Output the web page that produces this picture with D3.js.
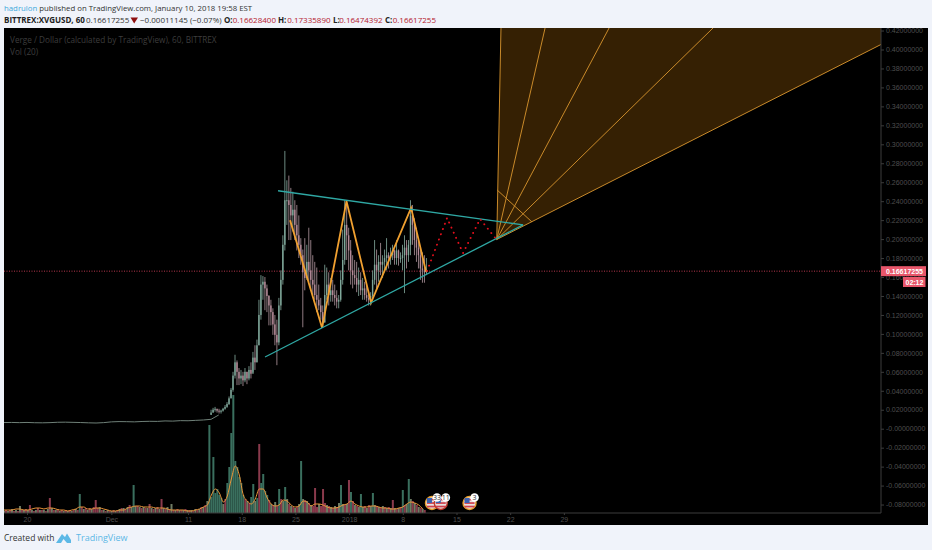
<!DOCTYPE html>
<html>
<head>
<meta charset="utf-8">
<script src="https://cdn.jsdelivr.net/npm/d3@7"></script>
<style>
html, body { margin: 0; padding: 0; background: #f0f3fa; overflow: hidden; }
text { font-family: "Open Sans", sans-serif; }
.axisText text { font-family: "Liberation Sans", sans-serif; }
</style>
</head>
<body>
<svg id="chart" width="932" height="550"></svg>
<script>
// days are counted from Dec 11 2017
let priceTicks = [0.42, 0.40, 0.38, 0.36, 0.34, 0.32, 0.30, 0.28, 0.26, 0.24, 0.22, 0.20, 0.18, 0.16, 0.14, 0.12, 0.10, 0.08, 0.06, 0.04, 0.02, 0, -0.02, -0.04, -0.06, -0.08]
let timeTicks = [-21, -10, 0, 7, 14, 21, 28, 35, 42, 49]
let timeLabels = ["20", "Dec", "11", "18", "25", "2018", "8", "15", "22", "29"]

let quietStart = -24
let quietPrice = [0.0065, 0.0066, 0.0064, 0.0066, 0.0063, 0.0062, 0.0064, 0.0068, 0.0069, 0.0067, 0.0065, 0.0062, 0.0060, 0.0064, 0.0072, 0.0075, 0.0074, 0.0072, 0.0076, 0.0078, 0.0077, 0.0082, 0.0080, 0.0085, 0.0084, 0.0088, 0.0092, 0.0099, 0.0145]

let candleStart = 3
let candleStep = 0.26
let candleHigh = [
    .020, .022, .023, .021, .021, .020, .022, .025, .028, .034,
    .043, .060, .078, .072, .064, .062, .060, .064, .060, .066,
    .070, .081, .088, .094, .136, .162, .161, .160, .152, .141,
    .136, .127, .120, .115, .138, .167, .204, .293, .262, .267,
    .254, .250, .241, .236, .225, .201, .189, .201, .194, .212,
    .199, .183, .176, .170, .152, .138, .130, .173, .170, .165,
    .159, .157, .152, .146, .141, .167, .210, .241, .236, .212,
    .199, .183, .178, .176, .170, .165, .159, .155, .152, .146,
    .144, .167, .199, .189, .183, .196, .183, .189, .201, .186,
    .191, .194, .189, .199, .189, .186, .194, .204, .199, .199,
    .241, .236, .222, .212, .201, .191, .186, .183, .180]
let candleLow = [
    .015, .017, .018, .017, .016, .016, .018, .020, .022, .025,
    .032, .039, .053, .046, .046, .047, .045, .049, .047, .051,
    .053, .060, .062, .070, .088, .115, .136, .125, .123, .109,
    .109, .099, .088, .067, .088, .125, .152, .188, .215, .199,
    .199, .208, .199, .188, .180, .173, .107, .146, .157, .155,
    .146, .141, .136, .123, .125, .115, .107, .112, .136, .130,
    .134, .134, .130, .127, .127, .134, .152, .173, .178, .167,
    .152, .148, .152, .144, .140, .141, .136, .136, .134, .130,
    .130, .136, .152, .148, .155, .162, .159, .165, .167, .169,
    .173, .178, .173, .173, .172, .175, .167, .143, .169, .176,
    .183, .194, .183, .176, .169, .157, .154, .154, .162]
let candleClose = [
    .017, .020, .021, .019, .018, .019, .021, .023, .026, .032,
    .041, .056, .070, .060, .053, .056, .051, .060, .053, .062,
    .058, .075, .070, .088, .120, .152, .155, .148, .140, .130,
    .123, .110, .099, .091, .130, .157, .194, .241, .241, .236,
    .225, .231, .215, .204, .194, .183, .165, .159, .176, .167,
    .157, .152, .141, .136, .130, .123, .112, .141, .152, .141,
    .146, .141, .138, .134, .136, .157, .178, .215, .204, .188,
    .167, .162, .159, .152, .157, .146, .148, .141, .138, .136,
    .140, .157, .173, .167, .176, .173, .176, .180, .183, .180,
    .183, .188, .180, .188, .180, .180, .183, .191, .183, .194,
    .225, .215, .199, .191, .183, .169, .167, .165, .1662]

let volumeStart = -24
let volumeStep = 0.26
let volumeValues = [
    2, 3, 2, 3, 4, 2, 3, 2, 7, 3,
    3, 4, 3, 8, 3, 2, 3, 5, 3, 3,
    3, 2, 4, 15, 5, 3, 3, 4, 2, 3,
    2, 3, 2, 3, 2, 3, 4, 3, 19, 6,
    4, 5, 3, 5, 4, 6, 13, 5, 6, 3,
    3, 2, 3, 2, 2, 3, 2, 3, 4, 5,
    5, 4, 6, 8, 6, 28, 7, 7, 6, 5,
    6, 5, 5, 9, 5, 4, 5, 6, 4, 14,
    5, 4, 6, 4, 9, 3, 3, 4, 3, 3,
    3, 4, 3, 3, 3, 2, 4, 3, 4, 6,
    6, 8, 12, 88, 16, 56, 20, 24, 18, 15,
    9, 14, 30, 46, 80, 118, 52, 46, 36, 30,
    18, 14, 12, 10, 16, 29, 12, 15, 69, 30,
    39, 22, 18, 13, 9, 8, 11, 7, 24, 14,
    12, 26, 14, 9, 7, 6, 5, 6, 9, 52,
    14, 13, 12, 10, 8, 7, 25, 6, 9, 7,
    24, 10, 8, 7, 6, 5, 7, 6, 10, 28,
    9, 8, 9, 33, 21, 12, 8, 7, 6, 19,
    6, 7, 5, 8, 7, 20, 8, 7, 6, 5,
    7, 6, 5, 6, 5, 13, 5, 4, 5, 6,
    23, 8, 9, 34, 14, 12, 10, 8, 6, 5, 4, 3]
let redSpikes = [23, 46, 128, 156, 160, 173]

let volumeMaStep = 0.52
let volumeMa = [
    3, 3, 3, 4, 4, 3, 3, 4, 5, 5,
    4, 5, 5, 4, 3, 3, 2, 3, 4, 6,
    6, 4, 4, 5, 5, 4, 3, 2, 2, 3,
    3, 5, 6, 7, 7, 6, 6, 6, 5, 5,
    5, 4, 3, 3, 3, 3, 2, 2, 3, 4,
    6, 8, 18, 24, 20, 11, 17, 34, 47, 38,
    18, 12, 9, 14, 24, 24, 15, 9, 7, 8,
    13, 12, 8, 6, 7, 12, 11, 7, 9, 9,
    8, 6, 5, 5, 6, 8, 9, 12, 9, 7,
    6, 6, 7, 7, 6, 5, 5, 4, 4, 5,
    6, 9, 11, 10, 8, 4]

let lastPrice = 0.16617255
let triangleTop = [[11.73, 0.251], [43.68, 0.215]]
let triangleBottom = [[10.04, 0.0756], [43.68, 0.215]]
let zigzag = [[13.3, 0.220], [17.47, 0.1065], [20.66, 0.240], [23.86, 0.133], [29.08, 0.233], [31.03, 0.1656]]
let forecast = [[31.16, 0.1664], [33.77, 0.2223], [35.85, 0.1853], [38.07, 0.2212], [40.29, 0.1988]]
let fanOrigin = [40.25, 0.1996]
let fanEnds = [[40.8, 0.4227], [46.55, 0.4227], [54.9, 0.4227], [68.45, 0.4227], [90.35, 0.4053]]
let fanCross = [[40.3, 0.2518], [44.85, 0.218]]
let eventDays = [31.8, 32.95, 36.7]
let eventLabels = ["33", "11", "3"]

let svg = d3.select("#chart")

let plotLeft = 4, plotRight = 881, plotTop = 28, plotBottom = 513

let x = d3.scaleLinear().domain([-24, 90.35]).range([plotLeft, plotRight])
let y = d3.scaleLinear().domain([0, 0.4]).range([428.7, 49.5])
let volY = d3.scaleLinear().domain([0, 118]).range([plotBottom, 395])

svg.append("rect").attr("x", 4).attr("y", 28).attr("width", 924).attr("height", 497).attr("fill", "black")
svg.append("defs").append("clipPath").attr("id", "plotClip").append("rect")
    .attr("x", plotLeft).attr("y", plotTop).attr("width", plotRight - plotLeft).attr("height", plotBottom - plotTop)

let plot = svg.append("g").attr("clip-path", "url(#plotClip)").style("filter", "blur(0.4px)")
let line = d3.line().x(d => x(d[0])).y(d => y(d[1]))

// fan
plot.append("path")
    .attr("d", line([fanOrigin, fanEnds[0], [90.35, fanEnds[0][1]], fanEnds[4]]) + "Z")
    .attr("fill", "#352003")
fanEnds.forEach(function(end){
    plot.append("path").attr("d", line([fanOrigin, end]))
        .attr("fill", "none").attr("stroke", "#c98a2a").attr("stroke-width", 1)
})
plot.append("path").attr("d", line(fanCross)).attr("fill", "none").attr("stroke", "#c98a2a").attr("stroke-width", 1)

// last price line
plot.append("line")
    .attr("x1", plotLeft).attr("x2", plotRight).attr("y1", y(lastPrice)).attr("y2", y(lastPrice))
    .attr("stroke", "#b5384e").attr("stroke-width", 1).attr("stroke-dasharray", "1 1.5")

// volume
volumeValues.forEach(function(v, i){
    let red = redSpikes.includes(i) || (v < 15 && i % 2 == 1)
    plot.append("rect")
        .attr("x", x(volumeStart + i*volumeStep) - 1)
        .attr("width", 2)
        .attr("y", volY(v))
        .attr("height", volY(0) - volY(v))
        .attr("fill", red ? "#8a3a4c" : (v < 15 ? "#6f7c64" : "#3a6f5e"))
})
plot.append("path")
    .attr("d", d3.line().x((d, i) => x(volumeStart + i*volumeMaStep)).y(d => volY(d)).curve(d3.curveMonotoneX)(volumeMa))
    .attr("fill", "none").attr("stroke", "#e8953a").attr("stroke-width", 1)

// flat part before the rally
plot.append("path")
    .attr("d", d3.line().x((d, i) => x(quietStart + i)).y(d => y(d))(quietPrice))
    .attr("fill", "none").attr("stroke", "#6f8078").attr("stroke-width", 1)

// candles
candleClose.forEach(function(close, i){
    let open = i == 0 ? quietPrice[quietPrice.length - 1] : candleClose[i - 1]
    let cx = x(candleStart + i*candleStep)
    plot.append("line")
        .attr("x1", cx).attr("x2", cx).attr("y1", y(candleHigh[i])).attr("y2", y(candleLow[i]))
        .attr("stroke", close >= open ? "#6c8a80" : "#8f7a80").attr("stroke-width", 1)
    plot.append("rect")
        .attr("x", cx - 0.7).attr("width", 1.4)
        .attr("y", y(Math.max(open, close)))
        .attr("height", Math.max(1, Math.abs(y(open) - y(close))))
        .attr("fill", close >= open ? "#7fa89a" : "#b58a98")
})

// drawings
plot.append("path").attr("d", line(zigzag)).attr("fill", "none").attr("stroke", "#f0a030").attr("stroke-width", 1.8)
plot.append("path").attr("d", line(triangleTop)).attr("fill", "none").attr("stroke", "#2fa8a4").attr("stroke-width", 1.3)
plot.append("path").attr("d", line(triangleBottom)).attr("fill", "none").attr("stroke", "#2fa8a4").attr("stroke-width", 1.3)
plot.append("path").attr("d", line(forecast))
    .attr("fill", "none").attr("stroke", "#e0101c").attr("stroke-width", 1.9)
    .attr("stroke-linecap", "round").attr("stroke-dasharray", "0.1 5.5")

// right axis
let rightAxis = d3.axisRight(y).tickValues(priceTicks).tickSize(3).tickPadding(2)
    .tickFormat(d => (d <= 0 ? "-" : "") + Math.abs(d).toFixed(8))
let rightG = svg.append("g").attr("class", "axisText").attr("transform", "translate(" + plotRight + ",0)").call(rightAxis)
rightG.select(".domain").attr("d", "M0," + plotTop + "V" + plotBottom).attr("stroke", "#3c3c3c")
rightG.selectAll(".tick line").attr("stroke", "#3c3c3c")
rightG.selectAll(".tick text").attr("fill", "#4e4e4e").attr("font-size", 7)

// bottom axis
let bottomAxis = d3.axisBottom(x).tickValues(timeTicks).tickSize(2).tickPadding(2)
    .tickFormat((d, i) => timeLabels[i])
let bottomG = svg.append("g").attr("class", "axisText").attr("transform", "translate(0," + plotBottom + ")").call(bottomAxis)
bottomG.select(".domain").attr("d", "M" + plotLeft + ",0H" + plotRight).attr("stroke", "#3c3c3c")
bottomG.selectAll(".tick line").attr("stroke", "#3c3c3c")
bottomG.selectAll(".tick text").attr("fill", "#4e4e4e").attr("font-size", 7)

// last price badges
svg.append("rect").attr("x", 881).attr("y", y(lastPrice) - 5).attr("width", 45).attr("height", 10).attr("fill", "#e8566a")
svg.append("text").attr("class", "axisBadge").attr("x", 886).attr("y", y(lastPrice) + 2.6)
    .attr("fill", "white").attr("font-size", 7).attr("font-weight", "bold").style("font-family", "Liberation Sans")
    .text(lastPrice.toFixed(8))
svg.append("rect").attr("x", 903).attr("y", 277).attr("width", 22.5).attr("height", 10).attr("fill", "#e8566a")
svg.append("text").attr("x", 905.5).attr("y", 284.6)
    .attr("fill", "white").attr("font-size", 7).attr("font-weight", "bold").style("font-family", "Liberation Sans")
    .text("02:12")

// event flags
eventDays.forEach(function(day, i){
    let cx = x(day), cy = 503
    let g = svg.append("g").attr("transform", "translate(" + cx + "," + cy + ")")
    g.append("circle").attr("r", 6.5).attr("fill", "#e8e0e0").attr("stroke", i == 1 ? "#c0392b" : "#e8a030").attr("stroke-width", 1.4)
    ;[-3.5, 0, 3.5].forEach(function(s){
        g.append("rect").attr("x", -5).attr("y", s - 0.8).attr("width", 10).attr("height", 1.7).attr("fill", "#d0404c")
    })
    g.append("rect").attr("x", -5).attr("y", -5).attr("width", 5).attr("height", 5).attr("fill", "#3b62b0")
})
eventDays.forEach(function(day, i){
    let cx = x(day) + 5, cy = 497.5
    svg.append("circle").attr("cx", cx).attr("cy", cy).attr("r", 4.3).attr("fill", "white")
    svg.append("text").attr("x", cx).attr("y", cy + 2.4).attr("text-anchor", "middle")
        .attr("font-size", 7).attr("fill", "#333").text(eventLabels[i])
})

// header
let head = svg.append("text").attr("x", 4).attr("y", 11).attr("font-size", 7.8).attr("fill", "#333")
head.append("tspan").attr("fill", "#3fa9dc").text("hadrulon")
head.append("tspan").text(" published on TradingView.com, January 10, 2018 19:58 EST")

svg.append("text").attr("x", 4).attr("y", 22.5).attr("font-size", 8).attr("font-weight", "bold").attr("fill", "#222").text("BITTREX:XVGUSD, 60")
svg.append("text").attr("x", 86).attr("y", 22.5).attr("font-size", 8).attr("fill", "#333").text("0.16617255")
svg.append("path").attr("d", "M130.5,17.5H138L134.2,23.5Z").attr("fill", "#8e1010")
svg.append("text").attr("x", 140).attr("y", 22.5).attr("font-size", 8).attr("fill", "#333").text("\u22120.00011145 (\u22120.07%)")

let ohlcLabels = ["O:", "H:", "L:", "C:"]
let ohlcValues = ["0.16628400", "0.17335890", "0.16474392", "0.16617255"]
let ohlcLabelX = [224, 278, 333, 385]
let ohlcValueX = [232.7, 287.3, 339.3, 392.7]
ohlcLabels.forEach(function(l, i){
    svg.append("text").attr("x", ohlcLabelX[i]).attr("y", 22.5).attr("font-size", 8).attr("font-weight", "bold").attr("fill", "#222").text(l)
    svg.append("text").attr("x", ohlcValueX[i]).attr("y", 22.5).attr("font-size", 8).attr("fill", "#b5202e").text(ohlcValues[i])
})

// legend
svg.append("text").attr("x", 10).attr("y", 43).attr("font-size", 8.2).attr("fill", "#3d3d3d").text("Verge / Dollar (calculated by TradingView), 60, BITTREX")
svg.append("text").attr("x", 10).attr("y", 54.5).attr("font-size", 8.2).attr("fill", "#3d3d3d").text("Vol (20)")

// footer
svg.append("text").attr("x", 4).attr("y", 541).attr("font-size", 8.5).attr("fill", "#333").text("Created with")
svg.append("path").attr("d", "M56,543 L62,534 L65,537 L67,533.5 L71,540 L71,543 L67,543 L63.5,539 L61,543 Z").attr("fill", "#5cb8e6")
svg.append("text").attr("x", 76).attr("y", 541).attr("font-size", 9).attr("fill", "#5cb8e6").text("TradingView")
</script>
</body>
</html>
